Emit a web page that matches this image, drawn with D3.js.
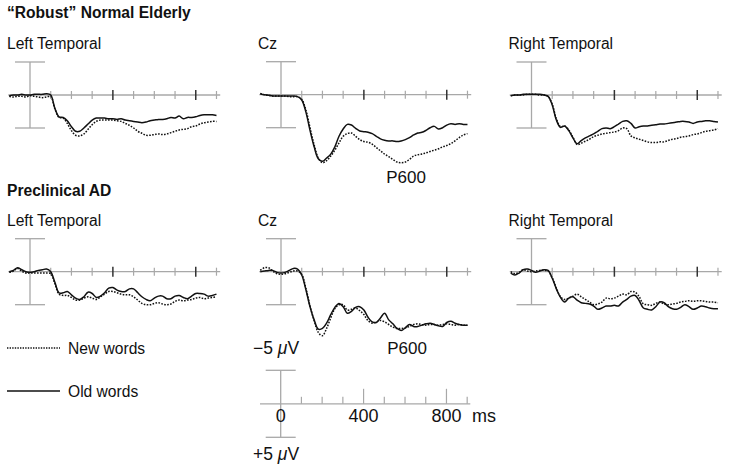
<!DOCTYPE html>
<html><head><meta charset="utf-8">
<script src="https://cdn.jsdelivr.net/npm/d3@7"></script>
<style>
html,body{margin:0;padding:0;background:#fff;}
svg{display:block;font-family:"Liberation Sans",Arial,sans-serif;}
</style></head>
<body>
<svg id="chart" width="729" height="470"></svg>
<script>
// time points (ms)
const times = d3.range(-100, 901, 20);

// µV values (negative plotted up)
const ltNormalOld = [0.1,0.0,0.0,-0.1,0.0,0.0,-0.1,-0.1,-0.1,-0.2,0.0,2.0,3.3,3.4,3.9,4.8,5.5,5.5,5.0,4.4,3.8,3.5,3.5,3.5,3.6,3.6,3.7,3.6,3.8,3.9,4.0,4.1,4.2,4.1,3.9,3.8,3.7,3.7,3.6,3.4,3.5,3.2,3.6,3.4,3.4,3.3,3.1,3.0,3.0,3.0,3.1];
const ltNormalNew = [0.2,0.3,0.2,0.2,0.3,0.1,0.2,0.3,0.4,0.3,0.2,2.1,3.4,3.5,4.3,5.4,6.1,6.2,5.9,5.2,4.5,4.0,3.8,3.8,3.8,3.8,3.9,4.0,4.3,4.6,5.0,5.5,5.8,6.1,6.1,6.0,5.9,6.0,5.9,5.7,5.5,5.3,5.2,5.1,4.8,4.7,4.4,4.2,4.1,4.0,4.0];
const czNormalOld = [-0.1,0.0,0.1,0.2,0.2,0.2,0.2,0.2,0.2,0.3,0.8,2.6,5.4,7.9,9.7,10.1,9.6,9.0,7.9,6.3,5.2,4.5,4.6,5.1,5.5,5.6,5.7,5.9,6.3,6.7,6.9,7.0,7.0,7.1,7.0,6.8,6.5,6.1,5.8,5.7,5.4,5.0,4.8,5.2,5.0,4.6,4.4,4.5,4.4,4.5,4.5];
const czNormalNew = [-0.2,0.0,0.1,0.2,0.2,0.2,0.2,0.3,0.3,0.3,0.7,2.3,5.0,7.6,9.6,10.3,10.0,9.3,8.4,7.3,6.3,5.9,5.8,6.3,6.8,7.1,7.2,7.5,8.0,8.5,9.0,9.4,9.8,10.2,10.3,10.2,9.8,9.3,9.1,9.0,8.8,8.6,8.4,8.2,7.9,7.7,7.4,7.0,6.5,6.1,5.9];
const rtNormalOld = [0.1,0.0,0.0,-0.1,-0.1,-0.1,-0.1,-0.1,0.0,0.2,1.5,3.8,4.9,4.7,5.4,6.5,7.4,6.9,6.5,6.2,5.9,5.5,5.1,5.0,5.1,4.8,4.4,4.0,3.9,4.3,5.0,4.8,4.7,4.7,4.6,4.5,4.4,4.4,4.3,4.2,4.1,4.0,4.0,4.1,4.3,4.1,4.0,3.9,3.9,4.0,4.1];
const rtNormalNew = [0.1,0.0,0.0,0.0,-0.1,-0.1,-0.1,0.0,0.0,0.2,1.4,3.6,4.8,4.7,5.3,6.4,7.5,7.3,7.0,6.7,6.3,6.1,5.9,5.8,5.7,5.6,5.4,5.0,5.1,6.2,6.5,6.7,6.9,7.1,7.2,7.2,7.1,7.1,6.9,6.7,6.6,6.4,6.3,6.2,6.0,5.9,5.7,5.5,5.4,5.3,5.1];
const ltAdOld = [0.0,-0.2,-0.6,-0.3,0.0,0.1,0.0,-0.2,-0.3,-0.4,0.0,1.6,3.2,3.2,3.0,3.5,4.0,4.2,3.8,3.1,3.3,3.9,3.7,3.2,2.5,2.4,2.8,3.0,3.0,2.6,2.6,3.2,3.8,4.2,4.4,4.0,3.7,3.7,4.1,4.1,3.7,3.6,3.9,4.1,3.7,3.3,3.3,3.4,3.7,3.6,3.4];
const ltAdNew = [0.1,-0.1,-0.5,-0.1,0.2,0.2,0.2,0.2,0.2,0.2,0.3,1.8,3.4,3.6,3.6,3.9,4.3,4.3,4.0,3.8,4.0,4.2,3.8,3.4,3.0,3.0,3.2,3.4,3.5,3.5,3.8,4.3,4.8,5.0,5.0,4.8,4.7,4.9,5.0,4.9,4.5,4.3,4.4,4.3,4.2,4.0,3.9,4.1,4.0,3.9,3.8];
const czAdOld = [0.0,-0.1,-0.2,-0.2,0.1,0.2,0.1,-0.2,-0.5,-0.4,0.5,2.7,5.3,7.3,8.7,8.6,7.8,6.5,5.4,4.8,5.3,6.3,6.0,5.4,5.3,5.8,6.9,7.6,7.7,7.0,6.3,7.3,7.9,8.6,8.9,8.5,8.0,8.3,8.3,8.1,7.9,7.8,8.0,8.2,8.3,7.7,7.5,7.8,8.0,8.1,8.1];
const czAdNew = [-0.2,-0.6,-0.6,-0.1,0.3,0.4,0.3,0.1,-0.1,-0.1,0.4,2.5,5.2,7.4,9.2,9.7,8.6,7.0,5.6,5.0,5.0,5.8,5.7,5.5,5.9,6.5,7.4,7.8,7.6,7.4,7.6,8.0,8.4,8.6,8.6,8.5,8.3,8.0,7.9,8.0,8.1,8.0,8.0,8.1,8.0,7.9,8.0,8.1,8.0,8.1,8.1];
const rtAdOld = [0.2,0.5,0.2,-0.3,-0.4,-0.2,0.1,-0.1,-0.3,-0.2,1.0,2.6,3.9,4.6,4.0,3.8,4.3,4.7,4.8,4.9,5.2,5.7,5.5,5.2,5.2,5.1,5.2,4.6,4.2,3.7,3.6,4.4,5.5,5.7,5.8,5.3,4.6,4.7,5.3,5.6,5.7,5.4,5.0,5.3,5.7,5.5,5.2,5.3,5.5,5.6,5.6];
const rtAdNew = [0.0,0.3,0.1,-0.3,-0.1,0.0,-0.1,-0.2,-0.2,-0.1,0.9,2.5,3.8,4.2,4.0,3.7,3.4,3.8,4.2,4.6,5.0,4.9,4.6,4.0,4.1,4.0,3.7,3.4,3.5,3.0,3.1,3.8,4.9,5.0,5.1,4.8,4.6,4.9,5.0,4.9,4.8,4.6,4.5,4.4,4.5,4.4,4.4,4.5,4.6,4.6,4.7];

const panelTitles = ["Left Temporal","Cz","Right Temporal"];
const groupTitles = ["\u201CRobust\u201D Normal Elderly","Preclinical AD"];
const legendLabels = ["New words","Old words"];
const axisTickLabels = ["0","400","800"];

const svg = d3.select("#chart");
const gray = "#a8a8a8";
const pxPerMs = 0.2072;
const halfRange = 33;

const panels = [
  {ox:30,   oy:95,    oldV:ltNormalOld, newV:ltNormalNew},
  {ox:281,  oy:94.7,  oldV:czNormalOld, newV:czNormalNew},
  {ox:531.5,oy:95,    oldV:rtNormalOld, newV:rtNormalNew},
  {ox:30,   oy:271.7, oldV:ltAdOld, newV:ltAdNew},
  {ox:281,  oy:271.7, oldV:czAdOld, newV:czAdNew},
  {ox:531.5,oy:271.7, oldV:rtAdOld, newV:rtAdNew}
];

// group titles
svg.append("text").attr("x",7).attr("y",18).attr("font-size",15.6).attr("font-weight","bold").attr("fill","#111").text(groupTitles[0]);
svg.append("text").attr("x",7).attr("y",196).attr("font-size",15.6).attr("font-weight","bold").attr("fill","#111").text(groupTitles[1]);

panels.forEach((p,i)=>{
  const x = d3.scaleLinear().domain([0,900]).range([p.ox, p.ox+900*pxPerMs]);
  const y = d3.scaleLinear().domain([-5,5]).range([p.oy-halfRange, p.oy+halfRange]);
  const g = svg.append("g");
  // title
  g.append("text").attr("x",p.ox-23).attr("y", i<3 ? 48.5 : 226).attr("font-size",15.6).attr("fill","#111").text(panelTitles[i%3]);
  // baseline
  g.append("line").attr("x1",x(-105)).attr("x2",x(918)).attr("y1",y(0)).attr("y2",y(0)).attr("stroke",gray).attr("stroke-width",1.3);
  // vertical scale
  g.append("line").attr("x1",x(0)).attr("x2",x(0)).attr("y1",y(-5)).attr("y2",y(5)).attr("stroke",gray).attr("stroke-width",1.3);
  [-5,5].forEach(v=>g.append("line").attr("x1",x(0)-15).attr("x2",x(0)+15).attr("y1",y(v)).attr("y2",y(v)).attr("stroke",gray).attr("stroke-width",1.3));
  // ticks
  d3.range(100,901,100).forEach(t=>{
    const major = (t===400||t===800);
    g.append("line").attr("x1",x(t)).attr("x2",x(t))
      .attr("y1",y(0)-(major?5:4)).attr("y2",y(0)+(major?5:4))
      .attr("stroke",major?"#333":gray).attr("stroke-width",major?1.5:1.2);
  });
  const line = d3.line().x((d,k)=>x(times[k])).y(d=>y(d)).curve(d3.curveCatmullRom.alpha(0.5));
  g.append("path").attr("d",line(p.newV)).attr("fill","none").attr("stroke","#111").attr("stroke-width",1.5).attr("stroke-dasharray","1.6,1.4");
  g.append("path").attr("d",line(p.oldV)).attr("fill","none").attr("stroke","#111").attr("stroke-width",1.5);
});

// P600 labels
svg.append("text").attr("x",406).attr("y",183).attr("text-anchor","middle").attr("font-size",17).attr("fill","#111").text("P600");
svg.append("text").attr("x",407).attr("y",354).attr("text-anchor","middle").attr("font-size",17).attr("fill","#111").text("P600");

// legend
svg.append("line").attr("x1",7).attr("x2",60).attr("y1",348).attr("y2",348).attr("stroke","#111").attr("stroke-width",1.3).attr("stroke-dasharray","1.4,1.2");
svg.append("text").attr("x",68).attr("y",354).attr("font-size",15.6).attr("fill","#111").text(legendLabels[0]);
svg.append("line").attr("x1",7).attr("x2",60).attr("y1",391).attr("y2",391).attr("stroke","#111").attr("stroke-width",1.5);
svg.append("text").attr("x",68).attr("y",397).attr("font-size",15.6).attr("fill","#111").text(legendLabels[1]);

// calibration axis
{
  const ox = 280.7, oy = 403.3;
  const x = d3.scaleLinear().domain([0,900]).range([ox, ox+900*pxPerMs]);
  const y = d3.scaleLinear().domain([-5,5]).range([oy-33, oy+34]);
  const g = svg.append("g");
  g.append("line").attr("x1",x(-100)).attr("x2",x(915)).attr("y1",y(0)).attr("y2",y(0)).attr("stroke",gray).attr("stroke-width",1.3);
  g.append("line").attr("x1",x(0)).attr("x2",x(0)).attr("y1",y(-5)).attr("y2",y(5)).attr("stroke",gray).attr("stroke-width",1.3);
  [-5,5].forEach(v=>g.append("line").attr("x1",x(0)-15).attr("x2",x(0)+15).attr("y1",y(v)).attr("y2",y(v)).attr("stroke",gray).attr("stroke-width",1.3));
  d3.range(100,901,100).forEach(t=>{
    const major = (t===400||t===800);
    g.append("line").attr("x1",x(t)).attr("x2",x(t)).attr("y1",y(0)).attr("y2",y(0)-(major?15:7)).attr("stroke",gray).attr("stroke-width",1.2);
  });
  [0,400,800].forEach((t,k)=>g.append("text").attr("x",x(t)).attr("y",422).attr("text-anchor","middle").attr("font-size",18).attr("fill","#111").text(axisTickLabels[k]));
  g.append("text").attr("x",472).attr("y",422).attr("font-size",18).attr("fill","#111").text("ms");
  const mv = (sign)=>{
    const t = g.append("text").attr("x",253).attr("font-size",17.5).attr("fill","#111");
    t.append("tspan").text(sign+"5 ");
    t.append("tspan").attr("font-style","italic").text("\u03BC");
    t.append("tspan").text("V");
    return t;
  };
  mv("\u2212").attr("y",354);
  mv("+").attr("y",460);
}
</script>
</body></html>
